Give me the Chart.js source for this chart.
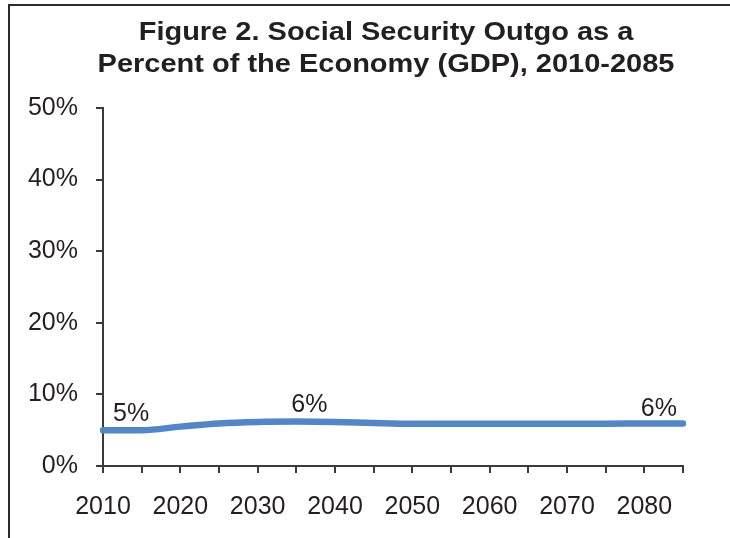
<!DOCTYPE html>
<html>
<head>
<meta charset="utf-8">
<script src="https://cdn.jsdelivr.net/npm/chart.js@4.4.1/dist/chart.umd.min.js"></script>
<style>
  html, body { margin: 0; padding: 0; background: #fff; overflow: hidden; }
  #wrap { position: relative; width: 730px; height: 538px; }
  #frame { position: absolute; left: 8px; top: 4px; width: 800px; height: 600px;
           border-top: 2px solid #2b2b2b; border-left: 2px solid #2b2b2b; }
  canvas { position: absolute; left: 0; top: 0; }
</style>
</head>
<body>
<div id="wrap">
  <div id="frame"></div>
  <canvas id="chart" width="730" height="538"></canvas>
</div>
<script>
// years on the x axis (every 5 years)
const years = [2010, 2015, 2020, 2025, 2030, 2035, 2040, 2045, 2050, 2055, 2060, 2065, 2070, 2075, 2080, 2085];
// outgo as % of GDP
const outgo = [5.0, 5.0, 5.5, 5.95, 6.15, 6.2, 6.15, 6.0, 5.9, 5.9, 5.9, 5.9, 5.9, 5.9, 5.95, 5.95];
const yTicks = [0, 10, 20, 30, 40, 50];
const titleLines = ['Figure 2. Social Security Outgo as a', 'Percent of the Economy (GDP), 2010-2085'];

const txt = '#231f20';
const axisCol = '#3a3a3a';
const fam = '"Liberation Sans", Arial, sans-serif';

// the three labels Excel shows on the line
const pointLabels = [
    { i: 0, align: 'left', dx: 10, dy: -9 },
    { i: 5, align: 'center', dx: 13, dy: -9.5 },
    { i: 15, align: 'right', dx: -6, dy: -7.5 }
];

const labelPlugin = {
    id: 'pointLabels',
    afterDatasetsDraw(chart) {
        const meta = chart.getDatasetMeta(0);
        const ctx = chart.ctx;
        ctx.save();
        ctx.font = '25px ' + fam;
        ctx.fillStyle = txt;
        ctx.textBaseline = 'alphabetic';
        pointLabels.forEach(p => {
            const pt = meta.data[p.i];
            ctx.textAlign = p.align;
            ctx.fillText(Math.round(outgo[p.i]) + '%', pt.x + p.dx, pt.y + p.dy);
        });
        ctx.restore();
    }
};

// the title in the picture is a little wider than plain Arial bold
const titlePlugin = {
    id: 'wideTitle',
    afterDraw(chart) {
        const ctx = chart.ctx;
        ctx.save();
        ctx.font = 'bold 25.5px ' + fam;
        ctx.fillStyle = txt;
        ctx.textAlign = 'center';
        ctx.textBaseline = 'alphabetic';
        titleLines.forEach((line, k) => {
            ctx.save();
            ctx.translate(386, 40 + k * 31.7);
            ctx.scale(1.137, 1);
            ctx.fillText(line, 0, 0);
            ctx.restore();
        });
        ctx.restore();
    }
};

new Chart(document.getElementById('chart'), {
    type: 'line',
    data: {
        labels: years,
        datasets: [{
            data: outgo,
            borderColor: '#5386c4',
            borderWidth: 6.5,
            borderCapStyle: 'round',
            pointRadius: 0,
            tension: 0.4,
            cubicInterpolationMode: 'monotone',
            fill: false
        }]
    },
    options: {
        responsive: false,
        animation: false,
        layout: { padding: { left: 20, right: 47, top: 108, bottom: 0 } },
        plugins: {
            legend: { display: false },
            tooltip: { enabled: false },
            title: { display: false }
        },
        scales: {
            x: {
                type: 'category',
                offset: false,
                border: { color: axisCol, width: 2 },
                grid: { drawOnChartArea: false, drawTicks: true, tickLength: 7, color: axisCol, lineWidth: 2 },
                ticks: {
                    autoSkip: false, maxRotation: 0, color: txt, padding: 19,
                    font: { family: fam, size: 25 },
                    callback: (v, i) => years[i] % 10 === 0 ? String(years[i]) : ''
                },
                afterFit: s => { s.height = 538 - 466; }
            },
            y: {
                min: 0, max: 50,
                afterBuildTicks: s => { s.ticks = yTicks.map(v => ({ value: v })); },
                border: { color: axisCol, width: 2 },
                grid: { drawOnChartArea: false, drawTicks: true, tickLength: 7, color: axisCol, lineWidth: 2 },
                ticks: {
                    color: txt, padding: 18,
                    font: { family: fam, size: 25 },
                    callback: v => v + '%'
                },
                afterFit: s => { s.width = 103 - 20; }
            }
        }
    },
    plugins: [labelPlugin, titlePlugin]
});
</script>
</body>
</html>
